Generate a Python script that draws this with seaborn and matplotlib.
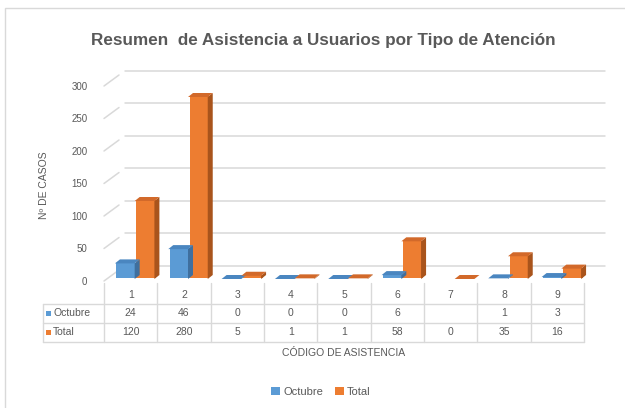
import numpy as np
import pandas as pd
import seaborn as sns
import matplotlib.pyplot as plt
from matplotlib.patches import Polygon, Rectangle
from matplotlib.lines import Line2D
from matplotlib.transforms import ScaledTranslation, IdentityTransform

codigos = ["1", "2", "3", "4", "5", "6", "7", "8", "9"]
octubre = [24, 46, 0, 0, 0, 6, np.nan, 1, 3]
total = [120, 280, 5, 1, 1, 58, 0, 35, 16]
series = ["Octubre", "Total"]
y_ticks = [0, 50, 100, 150, 200, 250, 300]

title = "Resumen  de Asistencia a Usuarios por Tipo de Atención"
x_title = "CÓDIGO DE ASISTENCIA"
y_title = "Nº DE CASOS"

front = {"Octubre": "#5B9BD5", "Total": "#ED7D31"}
side = {"Octubre": "#3F6F9E", "Total": "#A9541C"}
top = {"Octubre": "#4A86C0", "Total": "#D2692A"}
grid_c = "#D9D9D9"
txt_c = "#595959"

W, H = 625, 408
sns.set_style("white")
plt.rcParams["font.family"] = ["Liberation Sans", "DejaVu Sans"]

df = pd.DataFrame({
    "codigo": codigos * 2,
    "casos": octubre + total,
    "serie": ["Octubre"] * len(codigos) + ["Total"] * len(codigos),
})

fig = plt.figure(figsize=(W / 100, H / 100), dpi=100)
# axes in pixel terms: front plane x 104..584, y 0 at 281, 300 at 86
ax = fig.add_axes([104 / W, (H - 281) / H, 480 / W, 195 / H])

sns.barplot(data=df, x="codigo", y="casos", hue="serie", palette=front,
            width=0.74, ax=ax, legend=False, saturation=1, errorbar=None)
ax.set_xlim(-0.5, len(codigos) - 0.5)
ax.set_ylim(0, 300)
ax.set_yticks(y_ticks)
ax.set_xticks([])
ax.set_xlabel("")
ax.set_ylabel("")
for s in ax.spines.values():
    s.set_visible(False)
ax.tick_params(axis="y", length=0, pad=12, labelsize=7, labelcolor=txt_c)


def off(dx, dy):
    return ScaledTranslation(dx / 72, dy / 72, fig.dpi_scale_trans)


# back wall gridlines + side wall slants
back = off(15, 11)
for t in y_ticks:
    ax.plot([-0.5, len(codigos) - 0.5], [t, t], color=grid_c, lw=1.1,
            transform=ax.transData + back, clip_on=False, zorder=0)
    fx, fy0 = ax.transData.transform((-0.5, t))
    ax.add_line(Line2D([fx, fx + 15], [fy0, fy0 + 11], color=grid_c, lw=1.1,
                       transform=IdentityTransform(), clip_on=False, zorder=0))

# 3D look for the bars
bar_shift = off(4, 2)
dx, dy = 5, 4
for cont, name in zip(ax.containers, series):
    for p in cont.patches:
        h = p.get_height()
        if not np.isfinite(h):
            p.set_visible(False)
            continue
        p.set_transform(ax.transData + bar_shift)
        p.set_zorder(3)
        p.set_edgecolor("none")
        p.set_clip_on(False)
        x0, x1 = p.get_x(), p.get_x() + p.get_width()
        a = ax.transData.transform((x0, 0)) + [4, 2]
        b = ax.transData.transform((x1, h)) + [4, 2]
        topf = [(a[0], b[1]), (b[0], b[1]), (b[0] + dx, b[1] + dy), (a[0] + dx, b[1] + dy)]
        sidef = [(b[0], a[1]), (b[0], b[1]), (b[0] + dx, b[1] + dy), (b[0] + dx, a[1] + dy)]
        ax.add_patch(Polygon(sidef, closed=True, fc=side[name], ec="none",
                             transform=IdentityTransform(), clip_on=False, zorder=3))
        ax.add_patch(Polygon(topf, closed=True, fc=top[name], ec="none",
                             transform=IdentityTransform(), clip_on=False, zorder=3))


# data table under the chart
def fy(ypix):
    return H - ypix


def hline(x0, x1, ypix):
    fig.add_artist(Line2D([x0, x1], [fy(ypix), fy(ypix)], color=grid_c, lw=1,
                          transform=IdentityTransform()))


def vline(x, y0, y1):
    fig.add_artist(Line2D([x, x], [fy(y0), fy(y1)], color=grid_c, lw=1,
                          transform=IdentityTransform()))


n = len(codigos)
edges = [ax.transData.transform((i - 0.5, 0))[0] for i in range(n + 1)]
centers = [ax.transData.transform((i, 0))[0] for i in range(n)]
left = 43
for e in edges:
    vline(e, 283, 342)
vline(left, 304, 342)
for yy in (304, 323, 342):
    hline(left, edges[-1], yy)

kw = dict(fontsize=7.5, color=txt_c, ha="center", va="center", transform=IdentityTransform())
for i, c in enumerate(codigos):
    fig.text(centers[i], fy(295), c, **kw)
    if np.isfinite(octubre[i]):
        fig.text(centers[i], fy(313), f"{octubre[i]:g}", **kw)
    fig.text(centers[i], fy(332), f"{total[i]:g}", **kw)

for name, yy in zip(series, (313, 332)):
    fig.add_artist(Rectangle((46, fy(yy) - 2.5), 5, 5, fc=front[name], ec="none",
                             transform=IdentityTransform()))
    fig.text(53, fy(yy), name, fontsize=7.5, color=txt_c, ha="left", va="center",
             transform=IdentityTransform())

# titles
fig.text(323 / W, fy(40) / H, title, fontsize=12.3, fontweight="bold",
         color=txt_c, ha="center", va="center")
fig.text(344 / W, fy(353) / H, x_title, fontsize=7.5, color=txt_c, ha="center", va="center")
fig.text(44 / W, fy(185) / H, y_title, fontsize=7.5, color=txt_c, ha="center",
         va="center", rotation=90)

# bottom legend
handles = [Rectangle((0, 0), 1, 1, fc=front[s], ec="none") for s in series]
fig.legend(handles, series, loc="center", bbox_to_anchor=(321 / W, fy(392) / H),
           ncol=2, frameon=False, fontsize=8, handlelength=0.8, handleheight=0.8,
           handletextpad=0.3, columnspacing=1.0, labelcolor=txt_c)

# chart area border
fig.add_artist(Rectangle((5, -10), W + 10, H - 8 + 10, fc="none", ec=grid_c, lw=1,
                         transform=IdentityTransform()))

fig.savefig("out.png", dpi=100)
